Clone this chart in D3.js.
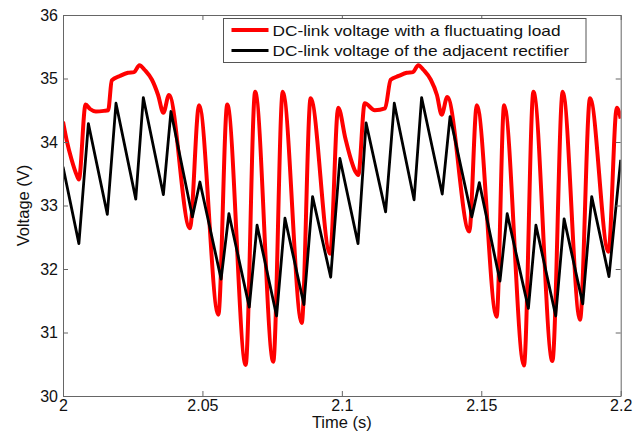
<!DOCTYPE html>
<html>
<head>
<meta charset="utf-8">
<script src="https://cdn.jsdelivr.net/npm/d3@7"></script>
<style>
  body { margin: 0; background: #fff; }
  svg { font-family: "Liberation Sans", Arial, sans-serif; }
</style>
</head>
<body>
<div class="chart"></div>
<script>
// DC-link voltage with a fluctuating load  [time (s), voltage (V)]
const redTime = [2.0000, 2.0013, 2.0031, 2.0049, 2.0057, 2.0081, 2.0097, 2.0118, 2.0147, 2.0162,
  2.0175, 2.0204, 2.0233, 2.0255, 2.0274, 2.0294, 2.0319, 2.0341, 2.0360, 2.0380,
  2.0455, 2.0488, 2.0557, 2.0589, 2.0655, 2.0689, 2.0754, 2.0788, 2.0856, 2.0888,
  2.0958, 2.0987, 2.1013, 2.1031, 2.1049, 2.1059, 2.1082, 2.1118, 2.1155, 2.1175,
  2.1204, 2.1233, 2.1255, 2.1274, 2.1294, 2.1319, 2.1341, 2.1358, 2.1378, 2.1457,
  2.1484, 2.1555, 2.1582, 2.1653, 2.1687, 2.1755, 2.1792, 2.1854, 2.1890, 2.1956,
  2.1986, 2.2000]
const redVolt = [34.32, 34.03, 33.72, 33.48, 33.41, 34.59, 34.52, 34.48, 34.49, 34.50,
  34.97, 35.04, 35.09, 35.10, 35.21, 35.13, 34.98, 34.74, 34.46, 34.74,
  32.64, 34.58, 31.28, 34.59, 30.49, 34.79, 30.54, 34.79, 31.15, 34.69,
  32.24, 34.54, 34.05, 33.75, 33.53, 33.48, 34.61, 34.50, 34.53, 34.98,
  35.04, 35.09, 35.10, 35.21, 35.13, 34.98, 34.74, 34.43, 34.71, 32.59,
  34.58, 31.25, 34.58, 30.48, 34.79, 30.55, 34.79, 31.20, 34.69, 32.27,
  34.54, 34.37]

// DC-link voltage of the adjacent rectifier
const blackTime = [2.0000, 2.0057, 2.0091, 2.0159, 2.0190, 2.0261, 2.0288, 2.0360, 2.0387, 2.0464,
  2.0491, 2.0567, 2.0595, 2.0668, 2.0696, 2.0766, 2.0796, 2.0864, 2.0895, 2.0960,
  2.0993, 2.1058, 2.1087, 2.1157, 2.1188, 2.1259, 2.1286, 2.1360, 2.1388, 2.1466,
  2.1493, 2.1567, 2.1593, 2.1669, 2.1696, 2.1767, 2.1797, 2.1864, 2.1896, 2.1958,
  2.2000]
const blackVolt = [33.61, 32.40, 34.29, 32.86, 34.61, 33.10, 34.70, 33.17, 34.48, 32.82,
  33.37, 31.84, 32.87, 31.40, 32.69, 31.26, 32.80, 31.44, 33.14, 31.87,
  33.74, 32.40, 34.30, 32.90, 34.61, 33.09, 34.70, 33.18, 34.40, 32.82,
  33.36, 31.81, 32.87, 31.38, 32.69, 31.26, 32.79, 31.45, 33.14, 31.88,
  33.72]

const xTicks = [2, 2.05, 2.1, 2.15, 2.2]
const yTicks = [30, 31, 32, 33, 34, 35, 36]
const legendNames = ["DC-link voltage with a fluctuating load", "DC-link voltage of the adjacent rectifier"]
const seriesColors = ["#ff0000", "#000000"]

let width = 643, height = 434
let margin = {top: 15, right: 22.3, bottom: 38, left: 63}

let svg = d3.select(".chart").append("svg")
    .attr("width", width)
    .attr("height", height)

let x = d3.scaleLinear().domain([2, 2.2]).range([margin.left, width - margin.right])
let y = d3.scaleLinear().domain([30, 36]).range([height - margin.bottom, margin.top])

// clip so the lines stay inside the box
svg.append("clipPath").attr("id", "plot")
    .append("rect")
    .attr("x", margin.left).attr("y", margin.top)
    .attr("width", x(2.2) - x(2)).attr("height", y(30) - y(36))

let redData = redTime.map((t, i) => [t, redVolt[i]])
let blackData = blackTime.map((t, i) => [t, blackVolt[i]])

let redLine = d3.line().x(d => x(d[0])).y(d => y(d[1])).curve(d3.curveMonotoneX)
let blackLine = d3.line().x(d => x(d[0])).y(d => y(d[1])).curve(d3.curveLinear)

let lines = svg.append("g").attr("clip-path", "url(#plot)")
lines.append("path")
    .attr("d", redLine(redData))
    .attr("fill", "none")
    .attr("stroke", seriesColors[0])
    .attr("stroke-width", 4)
    .attr("stroke-linejoin", "round")
lines.append("path")
    .attr("d", blackLine(blackData))
    .attr("fill", "none")
    .attr("stroke", seriesColors[1])
    .attr("stroke-width", 2.8)
    .attr("stroke-linejoin", "round")

// axes, matlab style with ticks pointing inward on all four sides
let axisColor = "#666"
let styleAxis = g => {
    g.select(".domain").attr("stroke", axisColor)
    g.selectAll(".tick line").attr("stroke", axisColor)
    g.selectAll(".tick text").attr("fill", "#111").attr("font-size", 16)
}
svg.append("g")
    .attr("transform", `translate(0,${y(30)})`)
    .call(d3.axisBottom(x).tickValues(xTicks).tickSizeInner(-5).tickSizeOuter(0).tickPadding(3.5).tickFormat(d3.format("")))
    .call(styleAxis)
svg.append("g")
    .attr("transform", `translate(${x(2)},0)`)
    .call(d3.axisLeft(y).tickValues(yTicks).tickSizeInner(-5).tickSizeOuter(0).tickPadding(5).tickFormat(d3.format("d")))
    .call(styleAxis)
svg.append("g")
    .attr("transform", `translate(0,${y(36)})`)
    .call(d3.axisTop(x).tickValues(xTicks).tickSizeInner(-5).tickSizeOuter(0).tickFormat(""))
    .call(styleAxis)
svg.append("g")
    .attr("transform", `translate(${x(2.2)},0)`)
    .call(d3.axisRight(y).tickValues(yTicks).tickSizeInner(-5).tickSizeOuter(0).tickFormat(""))
    .call(styleAxis)

// axis titles
svg.append("text")
    .attr("x", (x(2) + x(2.2)) / 2)
    .attr("y", 428)
    .attr("text-anchor", "middle")
    .attr("font-size", 16.5)
    .attr("fill", "#111")
    .text("Time (s)")
svg.append("text")
    .attr("transform", `translate(29,${(y(30) + y(36)) / 2}) rotate(-90)`)
    .attr("text-anchor", "middle")
    .attr("font-size", 16.5)
    .attr("fill", "#111")
    .text("Voltage (V)")

// legend
let legendWidths = [288, 296.5]
let legend = svg.append("g").attr("transform", "translate(223.5,18.5)")
legend.append("rect")
    .attr("width", 362.5)
    .attr("height", 44)
    .attr("fill", "#fff")
    .attr("stroke", "#555")
legend.selectAll("line")
    .data(legendNames)
    .join("line")
    .attr("x1", 8).attr("x2", 45)
    .attr("y1", (d, i) => 11.5 + i * 20.5)
    .attr("y2", (d, i) => 11.5 + i * 20.5)
    .attr("stroke", (d, i) => seriesColors[i])
    .attr("stroke-width", (d, i) => i == 0 ? 4 : 2.8)
legend.selectAll("text")
    .data(legendNames)
    .join("text")
    .attr("x", 49)
    .attr("y", (d, i) => 17 + i * 20.5)
    .attr("font-size", 15)
    .attr("fill", "#111")
    .attr("textLength", (d, i) => legendWidths[i])
    .attr("lengthAdjust", "spacingAndGlyphs")
    .text(d => d)
</script>
</body>
</html>
